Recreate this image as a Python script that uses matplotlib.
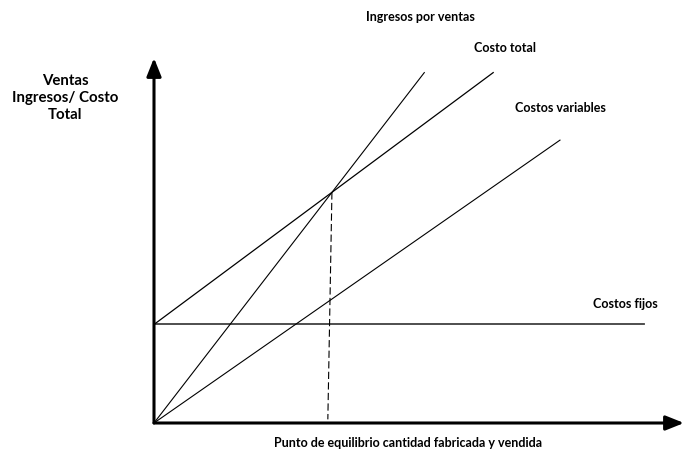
import matplotlib.pyplot as plt
import numpy as np

# Values (quantity on x, money on y, both 0-100 scale)
fixed_cost = 27.0
fixed_q = [0, 92.5]

revenue_q = [0, 51.0]
revenue_v = [0, 96.0]

total_cost_q = [0, 64.0]
total_cost_v = [fixed_cost, 96.0]

variable_q = [0, 76.6]
variable_v = [0, 77.5]

breakeven_foot_q = 32.8
breakeven_foot_v = 1.0

labels = {
    "revenue": "Ingresos por ventas",
    "total": "Costo total",
    "variable": "Costos variables",
    "fixed": "Costos fijos",
}
y_title = "Ventas\nIngresos/ Costo\nTotal"
x_title = "Punto de equilibrio cantidad fabricada y vendida"


def build_chart() -> None:
    plt.rcParams["font.family"] = ["Lato", "DejaVu Sans"]
    W, H = 685, 453
    fig = plt.figure(figsize=(W / 100, H / 100), dpi=100)

    # axes origin at the drawn origin of the diagram
    ax = fig.add_axes([154 / W, 1 - 423 / H, 530 / W, 365 / H])
    ax.set_xlim(0, 100)
    ax.set_ylim(0, 100)
    ax.axis("off")

    # break-even point from the revenue and total cost lines
    p_slope = revenue_v[1] / revenue_q[1]
    c_slope = (total_cost_v[1] - total_cost_v[0]) / total_cost_q[1]
    be_q = fixed_cost / (p_slope - c_slope)
    be_v = p_slope * be_q

    ax.plot(fixed_q, [fixed_cost, fixed_cost], color="#404040", lw=1.3)
    ax.plot(revenue_q, revenue_v, color="black", lw=0.8)
    ax.plot(total_cost_q, total_cost_v, color="black", lw=0.9)
    ax.plot(variable_q, variable_v, color="black", lw=0.8)
    ax.plot([be_q, breakeven_foot_q], [be_v, breakeven_foot_v], color="black",
            lw=0.8, dashes=(6.5, 3))

    # axes with arrow heads
    arrow = dict(arrowstyle="-|>,head_length=0.55,head_width=0.22",
                 mutation_scale=20, lw=2.2, color="black",
                 shrinkA=0, shrinkB=0)
    ax.annotate("", xy=(0, 1), xytext=(0, 0), xycoords="axes fraction",
                arrowprops=arrow, annotation_clip=False)
    ax.annotate("", xy=(1, 0), xytext=(0, 0), xycoords="axes fraction",
                arrowprops=arrow, annotation_clip=False)

    kw = dict(fontsize=9, fontweight="bold", ha="center", va="center")
    fig.text(420 / W, 1 - 17 / H, labels["revenue"], **kw)
    fig.text(505 / W, 1 - 48 / H, labels["total"], **kw)
    fig.text(560 / W, 1 - 108 / H, labels["variable"], **kw)
    fig.text(625 / W, 1 - 304 / H, labels["fixed"], **kw)
    fig.text(65 / W, 1 - 98 / H, y_title, linespacing=1.3,
             **{**kw, "fontsize": 10.8})
    fig.text(408 / W, 1 - 443 / H, x_title, **kw)

    fig.savefig("out.png", dpi=100)


def main() -> None:
    build_chart()


if __name__ == "__main__":
    main()
